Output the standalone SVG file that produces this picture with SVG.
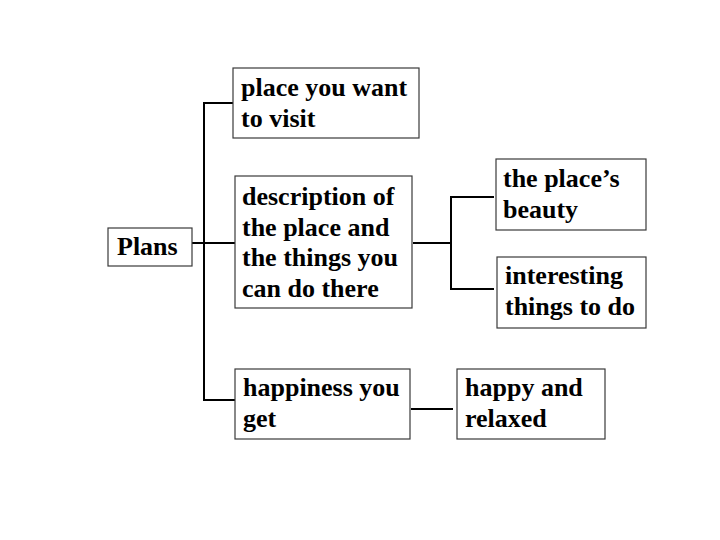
<svg xmlns="http://www.w3.org/2000/svg" width="720" height="540" viewBox="0 0 720 540">
<style>
.box{fill:#fff;stroke:#3a3a3a;stroke-width:1.2}
.t{font-family:"Liberation Serif","Times New Roman",serif;font-weight:bold;font-size:26px;fill:#000}
.c{fill:none;stroke:#000;stroke-width:2}
</style>
<rect width="720" height="540" fill="#fff"/>
<g id="connectors">
<path class="c" d="M192,243 H235"/>
<path class="c" d="M233,103 H204 V400 H235"/>
<path class="c" d="M413,243 H451"/>
<path class="c" d="M494,197 H451 V289 H494"/>
<path class="c" d="M411,409 H453"/>
</g>
<g id="plans">
<rect class="box" x="108" y="228" width="84" height="38"/>
<text class="t" x="117" y="255">Plans</text>
</g>
<g id="place">
<rect class="box" x="233" y="68" width="186" height="70"/>
<text class="t" x="241" y="96">place you want</text>
<text class="t" x="241" y="127">to visit</text>
</g>
<g id="description">
<rect class="box" x="235" y="176" width="177" height="132"/>
<text class="t" x="242" y="205">description of</text>
<text class="t" x="242" y="236">the place and</text>
<text class="t" x="242" y="266">the things you</text>
<text class="t" x="242" y="297">can do there</text>
</g>
<g id="happiness">
<rect class="box" x="235" y="369" width="175" height="70"/>
<text class="t" x="243" y="396">happiness you</text>
<text class="t" x="243" y="427">get</text>
</g>
<g id="beauty">
<rect class="box" x="496" y="159" width="150" height="71"/>
<text class="t" x="503" y="187">the place’s</text>
<text class="t" x="503" y="218">beauty</text>
</g>
<g id="interesting">
<rect class="box" x="497" y="257" width="149" height="71"/>
<text class="t" x="505" y="284">interesting</text>
<text class="t" x="505" y="315">things to do</text>
</g>
<g id="relaxed">
<rect class="box" x="457" y="369" width="148" height="70"/>
<text class="t" x="465" y="396">happy and</text>
<text class="t" x="465" y="427">relaxed</text>
</g>
</svg>
